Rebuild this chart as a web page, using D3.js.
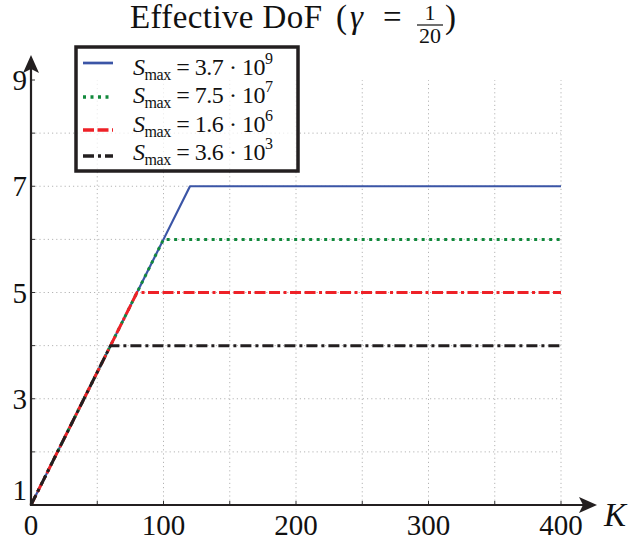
<!DOCTYPE html>
<html>
<head>
<meta charset="utf-8">
<script src="https://cdn.jsdelivr.net/npm/d3@7"></script>
<style>
  html, body { margin: 0; padding: 0; background: #fff; }
  svg { display: block; }
</style>
</head>
<body>
<svg id="chart" width="633" height="541" font-family="'Liberation Serif', 'DejaVu Serif', serif"></svg>
<script>
// Effective degrees of freedom vs. K for several S_max values (gamma = 1/20)
const kValues   = [0, 60, 80, 100, 120, 400];
const seriesNames = ["3.7", "7.5", "1.6", "3.6"];
const seriesExp   = ["9", "7", "6", "3"];
// DoF along each curve, sampled at kValues
const dofBlue  = [1, 4, 5, 6, 7, 7];
const dofGreen = [1, 4, 5, 6, 6, 6];
const dofRed   = [1, 4, 5, 5, 5, 5];
const dofBlack = [1, 4, 4, 4, 4, 4];
const xTickLabels = [0, 100, 200, 300, 400];
const yTickLabels = [1, 3, 5, 7, 9];
const xGrid = [50, 100, 150, 200, 250, 300, 350, 400];
const yGrid = [2, 3, 4, 5, 6, 7, 8];

const series = [
  { values: dofBlue,  color: "#3b55a6", width: 2.2, dash: null },
  { values: dofGreen, color: "#12893c", width: 3,   dash: "3,4.5" },
  { values: dofRed,   color: "#ee2127", width: 3,   dash: "11,3.5,11,3.5,3,3.5" },
  { values: dofBlack, color: "#231f20", width: 3,   dash: "11,4,3,4" }
];

const ink = "#111";
const svg = d3.select("#chart");
const x = d3.scaleLinear().domain([0, 400]).range([31, 561]);
const y = d3.scaleLinear().domain([1, 9]).range([505, 80]);

// grid
const grid = svg.append("g").attr("stroke", "#b5b5b5").attr("stroke-width", 1)
  .attr("stroke-dasharray", "1.2,3");
grid.selectAll("line.v").data(xGrid).join("line")
  .attr("x1", d => x(d)).attr("x2", d => x(d))
  .attr("y1", y(1)).attr("y2", y(9));
grid.selectAll("line.h").data(yGrid).join("line")
  .attr("x1", x(0)).attr("x2", x(400))
  .attr("y1", d => y(d)).attr("y2", d => y(d));

// small ticks
const ticks = svg.append("g").attr("stroke", "#333").attr("stroke-width", 1);
ticks.selectAll("line.xt").data(xGrid).join("line")
  .attr("x1", d => x(d)).attr("x2", d => x(d))
  .attr("y1", y(1)).attr("y2", y(1) - 4);
ticks.selectAll("line.yt").data(yGrid.concat([9])).join("line")
  .attr("x1", x(0)).attr("x2", x(0) + 4)
  .attr("y1", d => y(d)).attr("y2", d => y(d));

// curves
const line = d3.line().x((d, i) => x(kValues[i])).y(d => y(d));
series.forEach(s => {
  svg.append("path").datum(s.values)
    .attr("d", line)
    .attr("fill", "none")
    .attr("stroke", s.color)
    .attr("stroke-width", s.width)
    .attr("stroke-dasharray", s.dash)
    .attr("stroke-linejoin", "round");
});

// axes with arrowheads
const axisColor = "#231f20";
svg.append("line").attr("x1", x(0)).attr("x2", 586).attr("y1", y(1)).attr("y2", y(1))
  .attr("stroke", axisColor).attr("stroke-width", 2.2);
svg.append("path").attr("d", `M597,${y(1)} L579,${y(1) - 8} L583,${y(1)} L579,${y(1) + 8} Z`)
  .attr("fill", axisColor);
svg.append("line").attr("x1", x(0)).attr("x2", x(0)).attr("y1", y(1) + 1).attr("y2", 66)
  .attr("stroke", axisColor).attr("stroke-width", 2.2);
svg.append("path").attr("d", `M${x(0)},55 L${x(0) - 8},73 L${x(0)},69 L${x(0) + 8},73 Z`)
  .attr("fill", axisColor);

// tick labels
svg.append("g").selectAll("text").data(xTickLabels).join("text")
  .attr("x", d => x(d)).attr("y", 535)
  .attr("text-anchor", "middle").attr("font-size", 29).attr("fill", ink)
  .text(d => d);
svg.append("g").selectAll("text").data(yTickLabels).join("text")
  .attr("x", 27).attr("y", d => y(d) + 10 - (d === 1 ? 15 : 0))
  .attr("text-anchor", "end").attr("font-size", 29).attr("fill", ink)
  .text(d => d);

// axis label
svg.append("text").attr("x", 604).attr("y", 526).attr("font-size", 33)
  .attr("font-style", "italic").attr("fill", ink).text("K");

// title with a stacked fraction
const tg = svg.append("g").attr("fill", ink);
tg.append("text").attr("x", 130).attr("y", 28).attr("font-size", 33)
  .attr("textLength", 192).attr("lengthAdjust", "spacing").text("Effective DoF");
tg.append("text").attr("x", 336).attr("y", 28).attr("font-size", 33).text("(");
tg.append("text").attr("x", 350).attr("y", 28).attr("font-size", 33)
  .attr("font-style", "italic").text("γ");
tg.append("text").attr("x", 383).attr("y", 28).attr("font-size", 33).text("=");
tg.append("text").attr("x", 430).attr("y", 20).attr("font-size", 22)
  .attr("text-anchor", "middle").text("1");
tg.append("line").attr("x1", 417).attr("x2", 443).attr("y1", 25).attr("y2", 25)
  .attr("stroke", ink).attr("stroke-width", 1.2);
tg.append("text").attr("x", 430).attr("y", 43).attr("font-size", 22)
  .attr("text-anchor", "middle").text("20");
tg.append("text").attr("x", 445).attr("y", 28).attr("font-size", 33).text(")");

// legend
const legend = svg.append("g");
legend.append("rect").attr("x", 76).attr("y", 47).attr("width", 222).attr("height", 124)
  .attr("fill", "#fff").attr("fill-opacity", 0.75)
  .attr("stroke", "#231f20").attr("stroke-width", 3.5);
const sampleY = [63, 97, 130, 156];
const textY = [75, 103, 132, 160];
series.forEach((s, i) => {
  legend.append("line").attr("x1", 83).attr("x2", 113)
    .attr("y1", sampleY[i]).attr("y2", sampleY[i])
    .attr("stroke", s.color).attr("stroke-width", s.width + 0.5)
    .attr("stroke-dasharray", s.dash);
  const t = legend.append("text").attr("x", 133).attr("y", textY[i])
    .attr("font-size", 24).attr("fill", ink)
    .attr("textLength", 140).attr("lengthAdjust", "spacing");
  t.append("tspan").attr("font-style", "italic").text("S");
  t.append("tspan").attr("font-size", 16).attr("dy", 5).text("max");
  t.append("tspan").attr("dy", -5).text(" = " + seriesNames[i] + " · 10");
  t.append("tspan").attr("font-size", 16).attr("dy", -11).text(seriesExp[i]);
});
</script>
</body>
</html>
